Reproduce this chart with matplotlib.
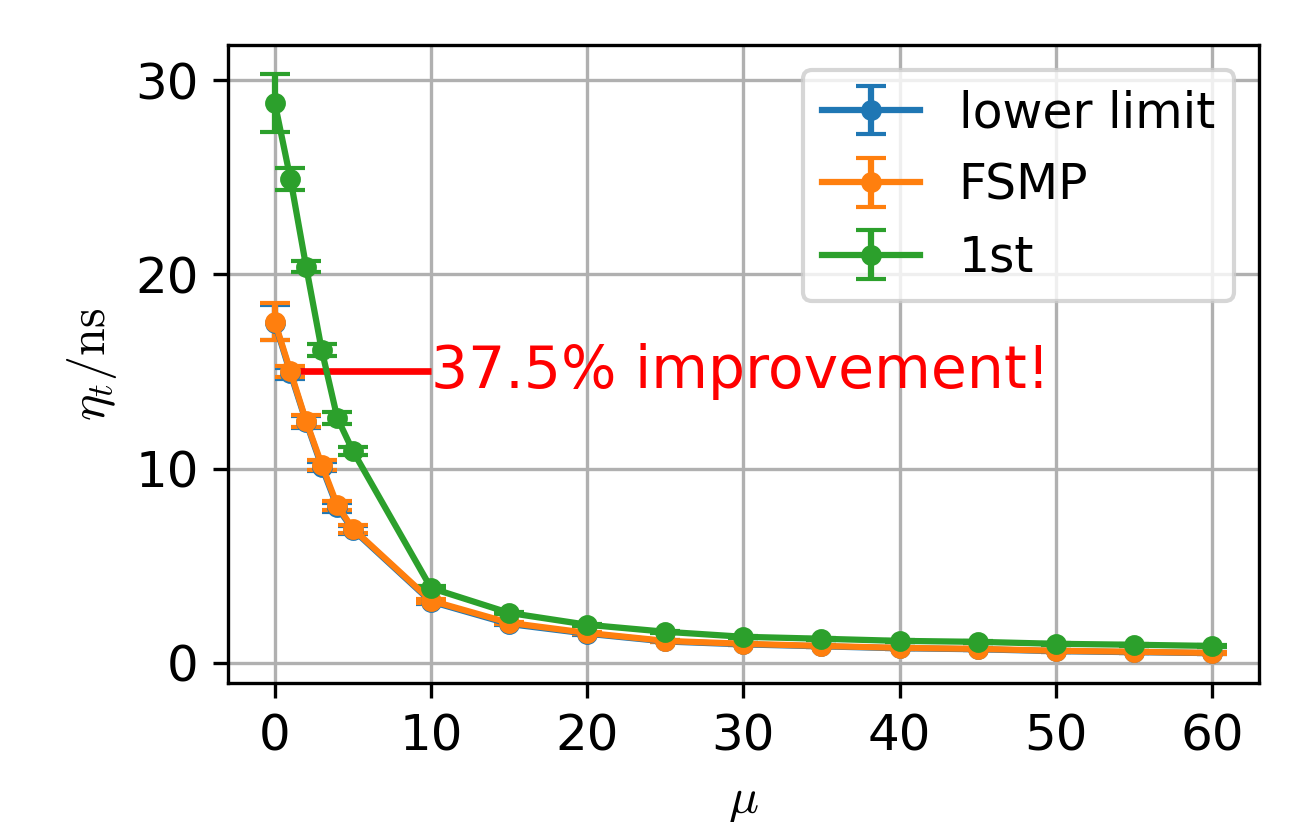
import numpy as np
import matplotlib
matplotlib.use("Agg")
import matplotlib.pyplot as plt

plt.rcParams['font.size'] = 12
plt.rcParams['mathtext.fontset'] = 'cm'

# --- data ---
mu = [0, 1, 2, 3, 4, 5, 10, 15, 20, 25, 30, 35, 40, 45, 50, 55, 60]

lower = [17.5, 14.9, 12.4, 10.1, 8.0, 6.85, 3.15, 2.0, 1.5, 1.1, 0.95, 0.85, 0.75, 0.7, 0.6, 0.55, 0.5]
lower_err = [0.9, 0.3, 0.3, 0.25, 0.25, 0.2, 0.1, 0.05, 0.05, 0.05, 0.05, 0.05, 0.05, 0.05, 0.05, 0.05, 0.05]

fsmp = [17.55, 15.0, 12.45, 10.2, 8.1, 6.9, 3.2, 2.06, 1.54, 1.13, 0.98, 0.87, 0.77, 0.72, 0.62, 0.57, 0.51]
fsmp_err = [0.95, 0.3, 0.3, 0.25, 0.25, 0.2, 0.1, 0.05, 0.05, 0.05, 0.05, 0.05, 0.05, 0.05, 0.05, 0.05, 0.05]

first = [28.8, 24.9, 20.4, 16.1, 12.6, 10.9, 3.85, 2.57, 1.96, 1.6, 1.34, 1.24, 1.13, 1.08, 0.98, 0.93, 0.87]
first_err = [1.5, 0.55, 0.3, 0.3, 0.3, 0.2, 0.1, 0.05, 0.05, 0.05, 0.05, 0.05, 0.05, 0.05, 0.05, 0.05, 0.05]

xticks = [0, 10, 20, 30, 40, 50, 60]

# --- plot ---
fig, ax = plt.subplots(figsize=(1303 / 300, 822 / 300), dpi=300)
fig.subplots_adjust(left=0.175, right=0.966, top=0.945, bottom=0.169)

ax.errorbar(mu, lower, yerr=lower_err, marker='o', ms=4, capsize=3.5, label='lower limit')
ax.errorbar(mu, fsmp, yerr=fsmp_err, marker='o', ms=4, capsize=3.5, label='FSMP')
ax.errorbar(mu, first, yerr=first_err, marker='o', ms=4, capsize=3.5, label='1st')

ax.hlines(15, 1, 10, colors='red', lw=1.6)
ax.text(10, 15, '37.5% improvement!', color='red', fontsize=14, va='center')

ax.set_xticks(xticks)
ax.grid(True)
ax.set_xlabel(r'$\mu$')
ax.set_ylabel(r'$\eta_t/\mathrm{ns}$')
ax.legend(loc='upper right', fontsize=11.7)

fig.savefig('out.png', dpi=300)
